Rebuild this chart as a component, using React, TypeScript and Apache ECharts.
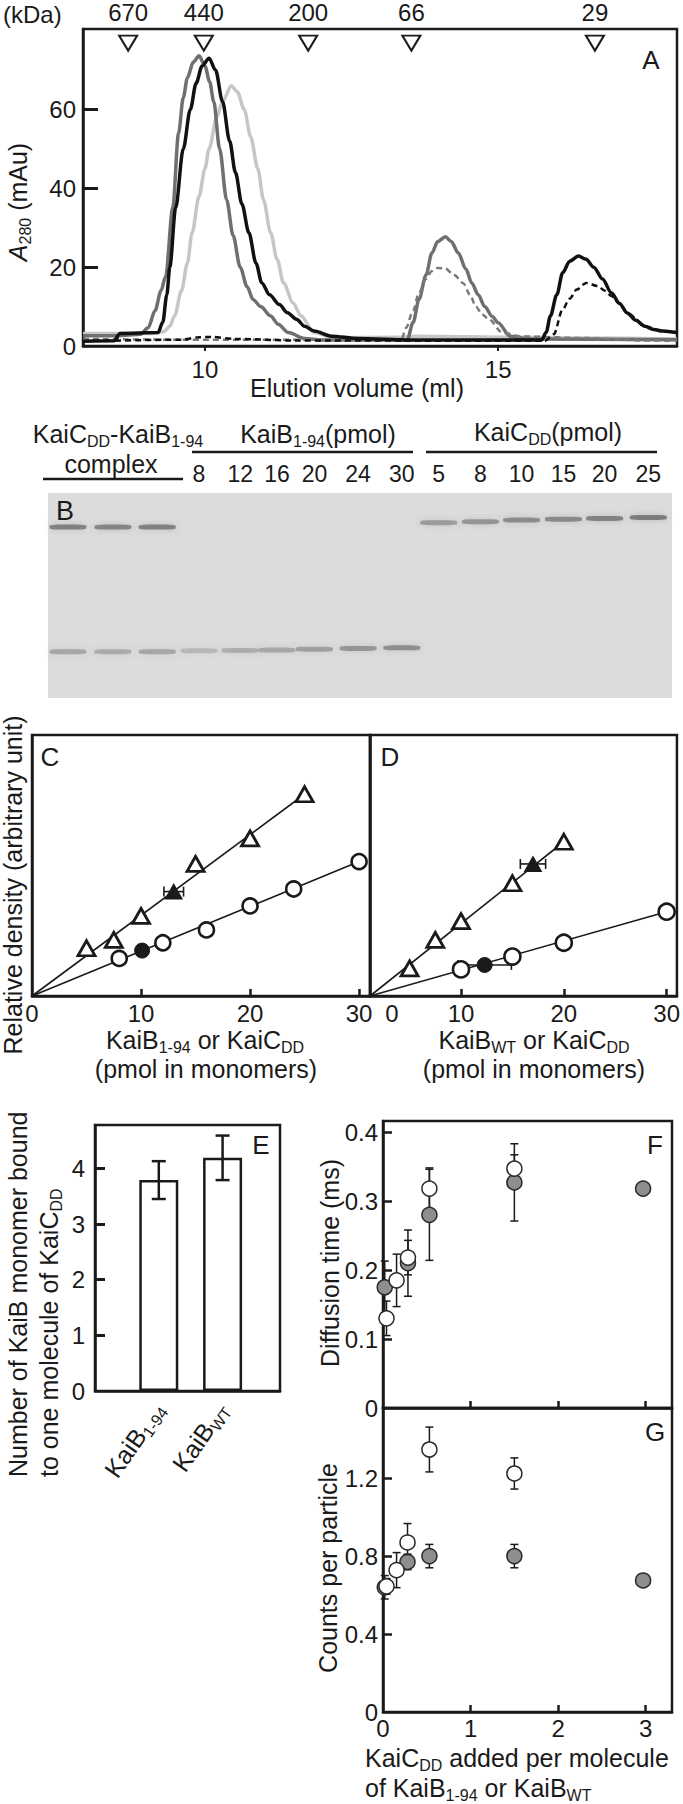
import React, { useEffect, useRef } from "react";
import * as echarts from "echarts";

const FONT = '"Liberation Sans", Arial, Helvetica, sans-serif';
const INK = "#1a1a1a";

// ---------- Panel A: gel-filtration elution profiles (ml, mAu) ----------
const kdaLabels = ["670", "440", "200", "66", "29"];
const kdaElution = [8.69, 9.98, 11.76, 13.52, 16.65];
const kdaMarkerLevel = 76.8;

const profileLightGray = [
  [7.92, 3.2], [9.1, 3.2], [9.3, 3.6], [9.4, 5], [9.48, 7.6], [9.6, 14], [9.7, 21], [9.78, 28.7],
  [9.9, 38], [10.0, 45], [10.07, 50], [10.2, 58], [10.3, 62], [10.45, 66], [10.55, 64.5], [10.67, 60],
  [10.78, 53], [10.9, 45], [11.0, 37], [11.12, 28.7], [11.23, 22], [11.34, 16], [11.5, 11], [11.64, 7.6],
  [11.86, 3.4], [12.2, 2.1], [13.3, 2.2], [13.6, 2.5], [15.5, 2.2], [16.5, 2], [18.05, 1.8],
];
const profileDarkGray = [
  [7.92, 2.6], [8.5, 2.6], [8.9, 3], [9.03, 4.6], [9.15, 9], [9.25, 14], [9.33, 17.7], [9.45, 35],
  [9.55, 54], [9.63, 63], [9.7, 68], [9.8, 72], [9.9, 73.6], [10.0, 71], [10.08, 67], [10.15, 62],
  [10.25, 50], [10.37, 37], [10.48, 28], [10.6, 20], [10.72, 15], [10.82, 11.8], [10.95, 10],
  [11.12, 7.6], [11.25, 5.5], [11.42, 3.4], [11.7, 1.9], [12.0, 1.5], [13.0, 1.5], [13.45, 1.6],
  [13.55, 6], [13.65, 11.8], [13.77, 18], [13.87, 23.6], [13.97, 26.5], [14.1, 27.7], [14.2, 26.5],
  [14.32, 23.6], [14.45, 19.5], [14.55, 16], [14.66, 13], [14.77, 10], [14.9, 7.5], [15.0, 5.9],
  [15.2, 2.5], [15.5, 1.8], [18.05, 1.6],
];
const profileBlack = [
  [7.92, 1.2], [8.45, 1.3], [8.55, 3.2], [9.2, 3.4], [9.28, 6], [9.35, 13], [9.4, 20], [9.5, 35],
  [9.63, 50], [9.75, 60], [9.85, 66.7], [9.95, 71], [10.07, 73], [10.18, 70], [10.3, 62], [10.42, 52],
  [10.52, 44], [10.63, 36], [10.75, 28.7], [10.87, 21], [10.97, 16], [11.1, 13], [11.27, 10.5],
  [11.4, 8.5], [11.56, 6.8], [11.7, 5], [11.86, 3.8], [12.16, 2.5], [12.6, 1.9], [13.5, 1.5],
  [15.74, 1.5], [15.82, 3.5], [15.89, 7.6], [16.0, 13], [16.1, 18.6], [16.22, 21.5], [16.37, 22.8],
  [16.5, 22], [16.63, 20], [16.78, 17], [16.93, 13.5], [17.07, 10.8], [17.2, 8.4], [17.35, 6.5],
  [17.5, 5], [17.65, 4.2], [17.8, 3.8], [18.05, 3.4],
];
const profileGrayDashed = [
  [7.92, 1.8], [9.5, 1.6], [13.35, 1.6], [13.43, 4.6], [13.55, 9], [13.65, 13.5], [13.77, 17],
  [13.87, 19], [13.97, 19.8], [14.1, 19.6], [14.25, 18], [14.4, 16], [14.52, 13], [14.62, 10],
  [14.73, 8], [14.84, 6.8], [15.07, 3.4], [15.4, 2.4], [16.5, 2], [17.5, 1.4], [18.05, 1.3],
];
const profileBlackDashed = [
  [8.3, 1.3], [9.6, 1.6], [9.9, 2.2], [10.1, 2.3], [10.5, 1.8], [11.5, 1.4], [15.8, 1.3], [15.95, 3],
  [16.1, 9.3], [16.22, 12], [16.34, 14.3], [16.5, 16], [16.7, 15.2], [16.82, 14], [16.93, 12.7],
  [17.07, 10.8], [17.2, 8.4], [17.5, 5], [17.8, 3.8], [18.05, 3.4],
];

// ---------- Panel B: SDS gel (lane position and band migration in % of gel) ----------
const gelLanePos = [3.2, 10.4, 17.5, 24.2, 30.8, 36.7, 42.7, 49.7, 56.7, 62.6, 69.3, 75.9, 82.6, 89.2, 96.2];
const gelLaneLabels = ["", "", "", "8", "12", "16", "20", "24", "30", "5", "8", "10", "15", "20", "25"];
const gelUpperBandPos = [16.6, 16.6, 16.6, 0, 0, 0, 0, 0, 0, 14.5, 14.0, 13.2, 12.8, 12.4, 11.9];
const gelUpperBandDensity = [0.52, 0.5, 0.52, 0, 0, 0, 0, 0, 0, 0.36, 0.4, 0.45, 0.48, 0.52, 0.56];
const gelLowerBandPos = [77.4, 77.4, 77.4, 77.0, 76.8, 76.6, 76.2, 75.8, 75.5, 0, 0, 0, 0, 0, 0];
const gelLowerBandDensity = [0.3, 0.28, 0.3, 0.2, 0.26, 0.3, 0.34, 0.4, 0.44, 0, 0, 0, 0, 0, 0];

// ---------- Panel C (KaiB1-94) ----------
const cKaiCx = [5, 7.5, 10, 15, 20, 25];
const cKaiCy = [18.3, 21.5, 30.7, 50.6, 60.4, 77.3];
const cKaiBx = [8, 12, 16, 20, 24, 30];
const cKaiBy = [14.4, 20.4, 25.3, 34.5, 41, 51.5];
const cComplexKaiC = [13.0, 40.0, 0.9]; // x, y, x-error
const cComplexKaiB = [10.1, 17.4, 0];
const cFitKaiC = [[0, 0], [25, 77.3]];
const cFitKaiB = [[0, 0], [30, 51.5]];

// ---------- Panel D (KaiBWT) ----------
const dKaiCx = [5, 7.5, 10, 15, 20];
const dKaiCy = [10.6, 21.5, 28.7, 43.2, 59.1];
const dKaiBx = [10, 15, 20, 30];
const dKaiBy = [10.2, 15.1, 20.4, 32.3];
const dComplexKaiC = [17.0, 50.6, 1.23];
const dComplexKaiB = [12.3, 11.9, 2.6];
const dFitKaiC = [[1.15, 0], [20, 59.1]];
const dFitKaiB = [[1.15, 0], [30, 32.3]];

// ---------- Panel E ----------
const eCategoryPos = [1, 2];
const eCategories = ["{m|KaiB}{s|1-94}", "{m|KaiB}{s|WT}"];
const eValues = [3.79, 4.19];
const eErrors = [0.34, 0.4];

// ---------- Panel F: diffusion time (ms) ----------
const fGrayX = [0.02, 0.285, 0.53, 1.5, 2.97];
const fGrayY = [0.175, 0.21, 0.28, 0.327, 0.318];
const fGrayErr = [0.038, 0.048, 0.066, 0.056, 0];
const fOpenX = [0.04, 0.155, 0.285, 0.53, 1.5];
const fOpenY = [0.13, 0.185, 0.218, 0.318, 0.347];
const fOpenErr = [0.025, 0.038, 0.025, 0.03, 0.02];

// ---------- Panel G: counts per particle ----------
const gGrayX = [0.02, 0.28, 0.53, 1.5, 2.97];
const gGrayY = [0.64, 0.77, 0.8, 0.8, 0.675];
const gGrayErr = [0.06, 0.04, 0.06, 0.06, 0];
const gOpenX = [0.04, 0.155, 0.28, 0.53, 1.5];
const gOpenY = [0.645, 0.728, 0.87, 1.347, 1.224];
const gOpenErr = [0.04, 0.09, 0.097, 0.115, 0.08];

// ---------- helpers ----------
const zip = (xs: number[], ys: number[]) => xs.map((x, i) => [x, ys[i]]);
const zip3 = (xs: number[], ys: number[], es: number[]) => xs.map((x, i) => [x, ys[i], es[i]]);

const subRich = {
  m: { fontSize: 25, fontFamily: FONT, color: INK, fill: INK },
  s: { fontSize: 16, fontFamily: FONT, color: INK, fill: INK, padding: [14, 0, 0, 0] },
  i: { fontSize: 25, fontFamily: FONT, fontStyle: "italic", color: INK, fill: INK },
};

function txt(text: string, x: number, y: number, o: any = {}) {
  const align = o.align || "center";
  const va = o.va || "middle";
  return {
    type: "text",
    x,
    y,
    rotation: o.rotation || 0,
    silent: true,
    style: {
      text,
      fontSize: o.size || 25,
      fontFamily: FONT,
      fill: INK,
      align,
      verticalAlign: va,
      textAlign: align,
      textVerticalAlign: va,
      rich: subRich,
    },
  };
}

function hline(x1: number, y1: number, x2: number, y2: number) {
  return { type: "line", silent: true, shape: { x1, y1, x2, y2 }, style: { stroke: INK, lineWidth: 2.5 } };
}

const errV = (cap: number, w: number) => (_p: any, api: any) => {
  const x = api.value(0), y = api.value(1), e = api.value(2);
  if (!e) return null;
  const a = api.coord([x, y + e]);
  const b = api.coord([x, y - e]);
  const st = { stroke: INK, lineWidth: w };
  return {
    type: "group",
    children: [
      { type: "line", shape: { x1: a[0], y1: a[1], x2: b[0], y2: b[1] }, style: st },
      { type: "line", shape: { x1: a[0] - cap, y1: a[1], x2: a[0] + cap, y2: a[1] }, style: st },
      { type: "line", shape: { x1: b[0] - cap, y1: b[1], x2: b[0] + cap, y2: b[1] }, style: st },
    ],
  };
};
const errH = (cap: number, w: number) => (_p: any, api: any) => {
  const x = api.value(0), y = api.value(1), e = api.value(2);
  if (!e) return null;
  const a = api.coord([x - e, y]);
  const b = api.coord([x + e, y]);
  const st = { stroke: INK, lineWidth: w };
  return {
    type: "group",
    children: [
      { type: "line", shape: { x1: a[0], y1: a[1], x2: b[0], y2: b[1] }, style: st },
      { type: "line", shape: { x1: a[0], y1: a[1] - cap, x2: a[0], y2: a[1] + cap }, style: st },
      { type: "line", shape: { x1: b[0], y1: b[1] - cap, x2: b[0], y2: b[1] + cap }, style: st },
    ],
  };
};

const axisLine = { show: true, onZero: false, lineStyle: { color: INK, width: 2.5 } };
const noSplit = { show: false };
const lab = { color: INK, fontFamily: FONT, fontSize: 24 };

function buildOption(): any {
  const gridBase = { show: true, borderColor: INK, borderWidth: 2.5, backgroundColor: "transparent", containLabel: false };
  const grid = [
    { ...gridBase, left: 83, top: 29, width: 594, height: 317 },
    { show: true, borderWidth: 0, backgroundColor: "#dcdcdc", left: 48, top: 493, width: 624, height: 205 },
    { ...gridBase, left: 32, top: 735, width: 338, height: 261 },
    { ...gridBase, left: 370, top: 735, width: 310, height: 261 },
    { ...gridBase, left: 95, top: 1125, width: 185, height: 266 },
    { ...gridBase, left: 383, top: 1121, width: 289, height: 287 },
    { ...gridBase, left: 383, top: 1408, width: 289, height: 304 },
  ];

  const tickIn = (len: number, vals: number[], w = 2.5) => ({
    show: true, inside: true, length: len, customValues: vals, lineStyle: { color: INK, width: w },
  });

  const xAxis = [
    {
      gridIndex: 0, type: "value", min: 7.92, max: 18.05, axisLine, splitLine: noSplit,
      axisTick: { show: true, inside: false, length: 5, customValues: [10, 15], lineStyle: { color: INK, width: 2 } },
      axisLabel: { ...lab, margin: 11, customValues: [10, 15] },
    },
    {
      gridIndex: 1, type: "value", min: 0, max: 100, position: "top", axisLine: { show: false },
      axisTick: { show: false }, splitLine: noSplit,
      axisLabel: {
        ...lab, fontSize: 23, margin: 8, customValues: gelLanePos.slice(3),
        formatter: (v: number) => {
          let best = 0;
          gelLanePos.forEach((p, i) => { if (Math.abs(p - v) < Math.abs(gelLanePos[best] - v)) best = i; });
          return gelLaneLabels[best];
        },
      },
    },
    {
      gridIndex: 2, type: "value", min: 0, max: 31, axisLine, splitLine: noSplit,
      axisTick: tickIn(7, [10, 20, 30]), axisLabel: { ...lab, margin: 5, customValues: [0, 10, 20, 30] },
    },
    {
      gridIndex: 3, type: "value", min: 1.15, max: 31, axisLine, splitLine: noSplit,
      axisTick: tickIn(7, [10, 20, 30]), axisLabel: { ...lab, margin: 5, customValues: [10, 20, 30] },
    },
    {
      gridIndex: 4, type: "value", min: 0, max: 2.9, axisLine, splitLine: noSplit, axisTick: { show: false },
      axisLabel: {
        ...lab, rotate: 55, margin: 14, customValues: eCategoryPos,
        formatter: (v: number) => eCategories[eCategoryPos.indexOf(v)] || "",
        rich: subRich,
      },
    },
    {
      gridIndex: 5, type: "value", min: 0, max: 3.3, axisLine, splitLine: noSplit,
      axisTick: tickIn(7, [1, 2, 3]), axisLabel: { show: false },
    },
    {
      gridIndex: 6, type: "value", min: 0, max: 3.3, axisLine, splitLine: noSplit,
      axisTick: tickIn(7, [1, 2, 3]), axisLabel: { ...lab, margin: 4, customValues: [0, 1, 2, 3] },
    },
  ];

  const yAxis = [
    {
      gridIndex: 0, type: "value", min: 0, max: 80.4, axisLine, splitLine: noSplit,
      axisTick: tickIn(15, [20, 40, 60], 3), axisLabel: { ...lab, margin: 7, customValues: [0, 20, 40, 60] },
    },
    { gridIndex: 1, type: "value", min: 0, max: 100, inverse: true, show: false },
    {
      gridIndex: 2, type: "value", min: 0, max: 100, axisLine, splitLine: noSplit,
      axisTick: { show: false }, axisLabel: { show: false },
    },
    {
      gridIndex: 3, type: "value", min: 0, max: 100, axisLine, splitLine: noSplit,
      axisTick: { show: false }, axisLabel: { show: false },
    },
    {
      gridIndex: 4, type: "value", min: 0, max: 4.78, axisLine, splitLine: noSplit,
      axisTick: tickIn(10, [1, 2, 3, 4], 3), axisLabel: { ...lab, margin: 10, customValues: [0, 1, 2, 3, 4] },
    },
    {
      gridIndex: 5, type: "value", min: 0, max: 0.416, axisLine, splitLine: noSplit,
      axisTick: tickIn(9, [0.1, 0.2, 0.3, 0.4]), axisLabel: { ...lab, margin: 5, customValues: [0, 0.1, 0.2, 0.3, 0.4] },
    },
    {
      gridIndex: 6, type: "value", min: 0, max: 1.56, axisLine, splitLine: noSplit,
      axisTick: tickIn(9, [0.4, 0.8, 1.2]), axisLabel: { ...lab, margin: 5, customValues: [0, 0.4, 0.8, 1.2] },
    },
  ];

  const profile = (data: number[][], color: string, width: number, dashed = false) => ({
    type: "line", xAxisIndex: 0, yAxisIndex: 0, data, symbol: "none", showSymbol: false,
    smooth: 0.3, smoothMonotone: "x", silent: true,
    lineStyle: { color, width, type: dashed ? [6, 4] : "solid" },
  });

  const bands: number[][] = [];
  gelLanePos.forEach((x, i) => {
    if (gelUpperBandDensity[i] > 0) bands.push([x, gelUpperBandPos[i], gelUpperBandDensity[i]]);
    if (gelLowerBandDensity[i] > 0) bands.push([x, gelLowerBandPos[i], gelLowerBandDensity[i]]);
  });

  const fit = (g: number, data: number[][]) => ({
    type: "line", xAxisIndex: g, yAxisIndex: g, data, symbol: "none", showSymbol: false, silent: true,
    lineStyle: { color: INK, width: 1.6 },
  });
  const openTri = (g: number, data: number[][]) => ({
    type: "scatter", xAxisIndex: g, yAxisIndex: g, data, symbol: "triangle", symbolSize: [17, 15],
    itemStyle: { color: "#fff", borderColor: INK, borderWidth: 2.8, opacity: 1 }, silent: true, z: 4,
  });
  const openCirc = (g: number, data: number[][], size = 15) => ({
    type: "scatter", xAxisIndex: g, yAxisIndex: g, data, symbol: "circle", symbolSize: size,
    itemStyle: { color: "#fff", borderColor: INK, borderWidth: 2.6, opacity: 1 }, silent: true, z: 4,
  });
  const filled = (g: number, data: number[][], symbol: string, size: any) => ({
    type: "scatter", xAxisIndex: g, yAxisIndex: g, data, symbol, symbolSize: size,
    itemStyle: { color: INK, borderColor: INK, borderWidth: 1, opacity: 1 }, silent: true, z: 5,
  });
  const errSeries = (g: number, data: number[][], render: any) => ({
    type: "custom", xAxisIndex: g, yAxisIndex: g, data, renderItem: render, encode: { x: 0, y: 1 }, silent: true, z: 3,
  });
  const fcsDot = (g: number, data: number[][], gray: boolean) => ({
    type: "scatter", xAxisIndex: g, yAxisIndex: g, data, symbol: "circle", symbolSize: 15,
    itemStyle: { color: gray ? "#8e8e8e" : "#ffffff", borderColor: "#2a2a2a", borderWidth: 1.5, opacity: 1 },
    silent: true, z: gray ? 4 : 5,
  });

  const series: any[] = [
    profile(profileLightGray, "#c6c6c6", 3.5),
    profile(profileDarkGray, "#6f6f6f", 3.5),
    profile(profileGrayDashed, "#7a7a7a", 2.5, true),
    profile(profileBlack, "#111111", 3.5),
    profile(profileBlackDashed, "#111111", 2.5, true),
    {
      type: "scatter", xAxisIndex: 0, yAxisIndex: 0, data: kdaElution.map((x) => [x, kdaMarkerLevel]),
      symbol: "triangle", symbolRotate: 180, symbolSize: [18, 15], silent: true, z: 6,
      itemStyle: { color: "#fff", borderColor: INK, borderWidth: 2, opacity: 1 },
      label: { show: true, position: "top", distance: 10, formatter: (p: any) => kdaLabels[p.dataIndex], ...lab },
    },
    {
      type: "scatter", xAxisIndex: 1, yAxisIndex: 1, data: bands, symbol: "roundRect", symbolSize: [37, 5], silent: true,
      itemStyle: {
        color: (p: any) => `rgba(60,60,60,${p.value[2]})`,
        shadowBlur: 6, shadowColor: "rgba(100,100,100,0.55)", opacity: 1,
      },
    },
    // C
    fit(2, cFitKaiC), fit(2, cFitKaiB),
    errSeries(2, [cComplexKaiC], errH(5, 1.6)),
    openTri(2, zip(cKaiCx, cKaiCy)), openCirc(2, zip(cKaiBx, cKaiBy)),
    filled(2, [cComplexKaiC.slice(0, 2)], "triangle", [17, 15]),
    filled(2, [cComplexKaiB.slice(0, 2)], "circle", 15),
    // D
    fit(3, dFitKaiC), fit(3, dFitKaiB),
    errSeries(3, [dComplexKaiC, dComplexKaiB], errH(5, 1.6)),
    openTri(3, zip(dKaiCx, dKaiCy)), openCirc(3, zip(dKaiBx, dKaiBy), 16),
    filled(3, [dComplexKaiC.slice(0, 2)], "triangle", [17, 15]),
    filled(3, [dComplexKaiB.slice(0, 2)], "circle", 15),
    // E
    {
      type: "bar", xAxisIndex: 4, yAxisIndex: 4, data: zip(eCategoryPos, eValues), barWidth: 39, silent: true,
      itemStyle: { color: "#fff", borderColor: INK, borderWidth: 2.5 },
    },
    errSeries(4, zip3(eCategoryPos, eValues, eErrors), errV(7, 2.5)),
    // F
    errSeries(5, zip3(fGrayX, fGrayY, fGrayErr), errV(4, 1.5)),
    errSeries(5, zip3(fOpenX, fOpenY, fOpenErr), errV(4, 1.5)),
    fcsDot(5, zip(fGrayX, fGrayY), true),
    fcsDot(5, zip(fOpenX, fOpenY), false),
    // G
    errSeries(6, zip3(gGrayX, gGrayY, gGrayErr), errV(4, 1.5)),
    errSeries(6, zip3(gOpenX, gOpenY, gOpenErr), errV(4, 1.5)),
    fcsDot(6, zip(gGrayX, gGrayY), true),
    fcsDot(6, zip(gOpenX, gOpenY), false),
  ];

  const R = Math.PI / 2;
  const graphic = [
    // A
    txt("(kDa)", 3, 14, { align: "left", size: 24 }),
    txt("A", 651, 60, { size: 26 }),
    txt("{i|A}{s|280} (mAu)", 18, 202, { rotation: R }),
    txt("Elution volume (ml)", 357, 388),
    // B
    txt("KaiC{s|DD}-KaiB{s|1-94}", 118, 434),
    txt("complex", 111, 464),
    txt("KaiB{s|1-94}(pmol)", 318, 434),
    txt("KaiC{s|DD}(pmol)", 548, 432),
    hline(43, 479, 183, 479),
    hline(192, 452, 413, 452),
    hline(426, 452, 657, 452),
    txt("B", 65, 511, { size: 27 }),
    // C / D
    txt("C", 50, 757, { size: 26 }),
    txt("D", 390, 757, { size: 26 }),
    txt("Relative density (arbitrary unit)", 13, 885, { rotation: R, size: 25 }),
    txt("KaiB{s|1-94} or KaiC{s|DD}", 205, 1040),
    txt("(pmol in monomers)", 206, 1069),
    txt("KaiB{s|WT} or KaiC{s|DD}", 534, 1040),
    txt("(pmol in monomers)", 534, 1069),
    txt("0", 392, 1013, { size: 24 }),
    // E
    txt("Number of KaiB monomer bound", 18, 1477, { rotation: R, align: "left" }),
    txt("to one molecule of KaiC{s|DD}", 49, 1477, { rotation: R, align: "left" }),
    txt("E", 261, 1145, { size: 26 }),
    // F / G
    txt("F", 655, 1145, { size: 26 }),
    txt("G", 655, 1432, { size: 26 }),
    txt("Diffusion time (ms)", 330, 1263, { rotation: R }),
    txt("Counts per particle", 328, 1568, { rotation: R }),
    txt("KaiC{s|DD} added per molecule", 365, 1758, { align: "left" }),
    txt("of KaiB{s|1-94} or KaiB{s|WT}", 365, 1788, { align: "left" }),
  ];

  return {
    animation: false,
    backgroundColor: "#ffffff",
    textStyle: { fontFamily: FONT },
    grid,
    xAxis,
    yAxis,
    series,
    graphic: { elements: graphic },
  };
}

export default function App() {
  const ref = useRef<HTMLDivElement>(null);
  useEffect(() => {
    document.body.style.margin = "0";
    const chart = echarts.init(ref.current as HTMLDivElement, null, { renderer: "svg", width: 683, height: 1804 });
    chart.setOption(buildOption());
    return () => chart.dispose();
  }, []);
  return <div ref={ref} style={{ width: 683, height: 1804, background: "#fff" }} />;
}
